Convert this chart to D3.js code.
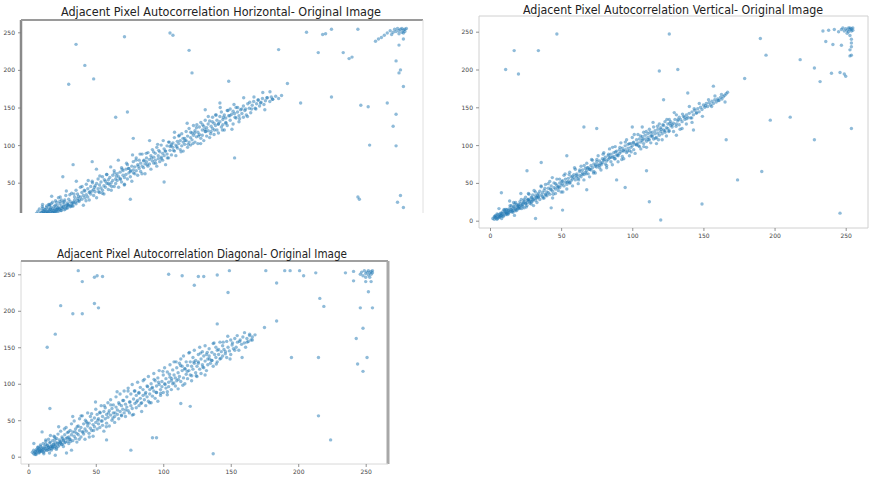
<!DOCTYPE html>
<html>
<head>
<meta charset="utf-8">
<script src="https://cdn.jsdelivr.net/npm/d3@7"></script>
<style>
body { margin: 0; background: #fff; }
svg { display: block; }
.tick text { font-family: "DejaVu Sans", sans-serif; font-size: 6px; fill: #444; }
.tick line { stroke: #777; stroke-width: 0.8; }
.title { font-family: "DejaVu Sans", sans-serif; font-size: 12px; fill: #222; }
</style>
</head>
<body>
<svg></svg>
<script>
var width = 871;
var height = 478;

var titles = ["Adjacent Pixel Autocorrelation Horizontal- Original Image",
              "Adjacent Pixel Autocorrelation Vertical- Original Image",
              "Adjacent Pixel Autocorrelation Diagonal- Original Image"];

var tickValues = [0, 50, 100, 150, 200, 250];

// horizontal neighbours: main band + scattered points
var hBand = [[3,9],[4,12],[5,8],[5,15],[6,10],[6,6],[7,13],[7,18],[8,9],[8,11],[9,14],[9,7],[10,12],[10,19],[10,9],[11,15],[11,11],[12,8],[12,14],[12,21],[13,12],[13,17],[14,10],[14,15],[14,24],[15,13],[15,18],[16,11],[16,16],[16,26],[17,14],[17,20],[18,12],[18,17],[18,30],[19,15],[19,22],[20,13],[20,19],[20,27],[21,17],[21,24],[22,14],[22,21],[23,19],[23,33],[24,16],[24,23],[25,20],[25,28],[26,18],[26,25],[27,22],[27,36],[28,24],[28,19],[29,27],[29,31],[30,22],[30,40],
  [31,29],[31,35],[32,25],[33,31],[33,44],[34,28],[34,37],[35,33],[35,20],[36,39],[36,30],[37,34],[37,48],[38,31],[38,42],[39,37],[39,27],[40,45],[40,35],[41,39],[41,52],[42,33],[42,41],[43,46],[43,38],[44,30],[44,49],[45,42],[45,55],[46,37],[46,47],[47,43],[47,51],[48,40],[48,58],[49,46],[49,35],[50,52],[50,44],[51,49],[51,61],[52,41],[52,54],[53,47],[53,57],[54,50],[54,40],[55,60],[55,53],[56,45],[56,66],[57,55],[57,49],[58,62],[58,53],[59,44],[59,58],[60,64],[60,55],[61,70],[61,51],[62,60],[62,66],[63,57],[63,48],[64,68],[64,61],[65,55],[65,74],[66,63],[66,69],[67,58],[67,65],[68,72],[68,52],[69,67],[69,78],[70,62],[70,71],[71,66],[71,83],[72,74],[72,60],[73,69],[73,80],[74,76],[74,65],[75,72],[75,88],[76,79],[76,70],[77,75],[77,62],[78,83],[78,78],[79,72],[79,90],[80,81],[80,75],[81,86],[81,68],[82,79],[82,94],[83,84],[83,76],[84,89],[84,80],[85,72],[85,97],[86,86],[86,82],[87,91],[87,78],[88,84],[88,100],[89,89],[89,80],[90,95],[90,86],[91,74],[91,92],[92,99],[92,88],[93,83],[93,104],[94,93],[94,98],[95,87],[95,101],[96,103],[96,97],[97,92],[97,110],[98,100],[98,86],[99,105],[99,96],
  [100,102],[100,112],[101,94],[101,106],[102,99],[102,115],[103,104],[103,92],[104,109],[104,101],[105,118],[105,106],[106,97],[106,112],[107,104],[107,122],[108,110],[108,100],[109,116],[109,107],[110,113],[110,126],[111,104],[111,119],[112,111],[112,123],[113,117],[113,102],[114,124],[114,114],[115,109],[115,130],[116,120],[116,113],[117,125],[117,106],[118,118],[118,133],[119,123],[119,112],[120,128],[120,119],[121,110],[121,132],[122,125],[122,118],[123,137],[123,122],[124,114],[124,129],[125,126],[125,140],[126,120],[126,133],[127,128],[127,116],[128,138],[128,131],[129,124],[129,144],[130,134],[130,127],[131,140],[131,120],[132,136],[132,130],[133,146],[133,126],[134,139],[135,133],[135,148],[136,141],[137,128],[137,145],[138,142],[139,136],[139,150],[140,144],[141,139],[141,131],[142,147],[143,142],[144,152],[144,137],[145,146],[146,140],[147,155],[148,149],[149,143],[150,153],[151,158],[152,149],[153,155],[154,160],[155,152],[156,157],[157,162],[158,154],[159,159],[160,163],[162,158],[163,164],[164,161],[166,165],[168,162],[170,166]];
var hBand2 = [[5.5,8],[7.2,21],[8.8,14],[9.6,6],[11.3,21],[12.7,15],[13.4,32],[15.1,9],[16.8,24],[17.5,16],[19.2,31],[20.6,7],[21.9,25],[23.4,39],[24.1,20],[25.8,34],[27.3,19],[28.6,35],[30.2,52],[31.7,32],[32.4,27],[34.1,45],[35.6,40],[36.8,26],[38.3,53],[39.5,38],[41.2,50],[42.6,44],[43.9,68],[45.4,38],[46.2,59],[47.9,36],[49.3,54],[50.8,61],[52.1,49],[53.6,71],[54.3,45],[56.1,63],[57.4,59],[58.8,80],[60.3,55],[61.5,68],[62.9,47],[64.4,76],[65.7,69],[67.2,66],[68.5,87],[69.1,63],[70.8,80],[72.4,72],[73.6,88],[74.9,62],[76.3,80],[77.8,89],[78.4,74],[80.1,106],[81.5,83],[82.8,91],[84.2,76],[85.6,101],
  [86.3,93],[88.1,82],[89.4,106],[90.7,92],[92.2,83],[93.5,104],[94.8,99],[96.4,93],[97.1,117],[98.6,98],[100.3,113],[101.5,91],[102.9,109],[104.2,106],[105.7,129],[106.4,101],[108.1,117],[109.6,102],[110.8,116],[112.3,127],[113.5,112],[114.9,102],[116.2,127],[117.7,121],[118.4,118],[120.1,138],[121.6,115],[122.8,131],[124.3,120],[125.5,140],[126.9,128],[128.2,150],[129.7,120],[130.4,137],[132.1,129],[133.5,146],[134.8,139],[136.2,121],[137.6,154],[138.3,137],[140.1,150],[141.4,135],[142.9,148],[144.2,163],[145.5,148],[146.8,138],[148.3,157],[149.6,148],[151.2,164],[152.5,148],[154.1,160],[155.7,156],[157.2,170],[158.6,147],[160.3,163],[162.1,171],[163.8,161],
  [6.5,10],[7.8,12],[8.3,8],[9.1,10],[10.4,11],[11.7,9],[12.2,12],[13.6,10],[14.3,13],[15.5,11],[16.2,14],[17.1,12],[18.4,15],[19.6,13],[20.3,16],[21.5,18],[22.7,15],[23.8,17],[24.6,21],[26.4,19],[27.9,23],[29.5,24],[31.1,26],[7.4,16],[9.8,17],[11.9,19],[13.1,22],[15.8,20],[18.9,25],[22.3,27]];
var hOut = [[30,234],[63,244],[94,249],[96,246],[36,206],[42,188],[25,181],[107,226],[109,196],[134,185],[168,227],[174,182],[187,250],[198,247],[200,248],[204,254],[222,254],[195,223],[212,223],[216,215],[218,217],[183,156],[204,164],[224,153],[229,151],[242,156],[230,100],[248,99],[246,125],[248,141],[253,178],[251,200],[250,196],[248,212],[250,233],[253,241],[234,238],[236,241],[238,243],[138,83],[222,31],[223,28],[251,33],[249,24],[253,17],[57,137],[65,144],[69,109],[67,28],[28,74],[21,58],[41,78],[90,51],[128,156],[118,147],
  [242,249],[244,252],[246,250],[247,254],[248,251],[249,255],[250,252],[251,254],[252,250],[252,255],[253,253],[254,254],[254,251],[255,255],[253,249],[250,248],[245,247],[240,246]];

// vertical neighbours
var vBand = [[2,3],[3,5],[3,2],[4,7],[4,4],[5,3],[5,9],[6,6],[6,4],[7,8],[7,5],[8,10],[8,7],[9,6],[9,12],[10,9],[10,14],[11,8],[11,11],[12,15],[12,10],[13,13],[13,9],[14,17],[14,12],[15,14],[15,20],[16,11],[16,16],[17,19],[17,13],[18,15],[18,24],[19,18],[19,14],[20,21],[20,17],[21,25],[21,16],[22,20],[22,28],[23,19],[23,23],[24,26],[24,17],[25,22],[25,31],[26,24],[26,20],[27,28],[27,36],[28,23],[28,27],[29,31],[29,22],[30,26],[30,34],[31,29],[31,40],[32,27],[32,33],[33,30],[33,24],[34,36],[34,31],[35,39],[35,28],[36,34],[36,45],[37,32],[37,37],[38,40],[38,30],[39,35],[39,48],[40,38],[40,33],[41,43],[41,37],[42,35],[42,52],[43,41],[43,46],[44,39],[44,30],[45,44],[45,50],[46,42],[46,36],[47,47],[47,55],[48,45],[48,40],[49,50],[49,44],[50,47],[50,38],[51,53],[51,49],[52,46],[52,60],[53,51],[53,55],[54,48],[54,42],[55,56],[55,52],[56,50],[56,64],[57,58],[57,53],[58,55],[58,46],[59,61],[59,57],[60,54],[60,68],[61,62],[61,58],[62,56],[62,49],[63,65],[63,60],[64,58],[64,72],[65,63],[65,67],[66,61],[66,54],[67,69],[67,64],[68,66],[68,76],[69,62],[69,70],[70,68],[70,58],[71,73],[71,67],[72,70],[72,80],[73,65],[73,75],[74,72],[74,63],[75,78],[75,71],[76,74],[76,86],[77,70],[77,79],[78,76],[78,67],[79,82],[79,77],[80,80],[80,90],[81,75],[81,84],[82,79],[82,70],[83,86],[83,81],[84,83],[84,95],[85,78],[85,88],[86,84],[86,74],[87,90],[87,85],[88,82],[88,98],[89,87],[89,92],[90,86],[90,78],[91,94],[91,89],[92,91],[92,103],[93,85],[93,96],[94,92],[94,82],[95,99],[95,94],[96,90],[96,107],[97,96],[97,101],[98,93],[98,86],[99,102],[99,97],[100,99],[100,110],[101,94],[101,104],[102,101],[102,89],[103,107],[103,100],[104,103],[104,114],[105,98],[105,108],[106,104],[106,95],[107,111],[107,106],[108,102],[108,117],[109,108],[109,113],[110,105],[110,97],[111,115],[111,110],[112,107],[112,121],[113,112],[113,103],[114,117],[114,111],[115,108],[115,124],[116,115],[116,119],[117,110],[117,102],[118,121],[118,116],[119,113],[119,128],[120,118],[120,123],[121,115],[121,107],[122,126],[122,120],[123,117],[123,131],[124,123],[124,112],[125,128],[125,122],[126,119],[126,134],[127,126],[127,131],[128,124],[129,129],[129,118],[130,134],[131,128],[131,140],[132,132],[133,127],[133,137],[134,134],[135,131],[135,122],[136,138],[137,134],[138,140],[138,128],[139,137],[140,142],[141,136],[142,144],[142,130],[143,140],[144,146],[145,142],[146,148],[147,144],[148,150],[149,147],[150,153],[151,150],[152,155],[153,151],[154,156],[155,153],[156,158],[157,155],[158,160],[159,157],[160,161],[161,159],[162,163],[163,161],[164,164],[165,166],[166,168],[167,170]];
var vBand2 = [[3.4,6],[4.9,2],[6.3,16],[7.6,7],[8.2,3],[9.9,15],[11.4,12],[12.1,8],[13.8,26],[15.3,12],[16.6,24],[17.2,7],[18.9,21],[20.4,19],[21.7,36],[22.3,16],[24,28],[25.5,18],[26.8,28],[27.4,35],[29.1,25],[30.6,20],[31.9,38],[33.5,34],[34.2,32],[35.9,46],[37.3,30],[38.6,43],[39.2,34],[40.9,49],[42.5,42],[43.8,57],[44.4,35],[46.1,49],[47.6,44],[48.9,55],[50.5,52],[51.2,38],[52.8,62],[54.3,51],[55.6,61],[56.2,50],[57.9,59],[59.4,70],[60.7,60],[62.3,54],[63.1,67],[64.8,61],[66.2,73],[67.5,62],[68.3,70],[70,68],[71.4,81],[72.7,63],[74.3,74],[75.1,81],[76.8,73],
  [78.2,74],[79.5,88],[80.3,81],[82,73],[83.4,88],[84.7,84],[86.1,97],[87.5,82],[88.2,91],[89.9,87],[91.3,97],[92.6,81],[93.4,93],[95.1,104],[96.6,92],[97.9,102],[99.2,91],[100.6,103],[101.4,114],[103.1,101],[104.5,99],[105.8,112],[107.3,108],[108.1,98],[109.8,118],[111.2,107],[112.5,117],[113.9,113],[114.6,130],[116.3,109],[117.7,125],[118.4,107],[120.2,121],[121.5,127],[122.9,119],[124.3,134],[125.6,118],[126.4,129],[128.1,127],[129.5,143],[130.8,125],[132.2,134],[133.6,121],[135.3,141],[136.7,137],[138.4,135],[140.1,151],[141.8,136],[143.5,148],[145.2,143],[147.1,155],[149.3,138],[151.4,152],[153.6,160],[155.8,151],[158.1,165],[160.4,159],[162.7,167],[165.2,157],
  [4.2,5],[5.6,8],[6.8,5],[7.3,10],[8.7,9],[9.4,6],[10.6,12],[11.8,10],[12.9,14],[13.3,11],[14.7,15],[15.9,13],[16.4,18],[17.8,16],[18.3,13],[19.5,20],[20.9,18],[21.2,22],[22.8,21],[23.6,24],[25.1,23],[26.3,27],[27.9,25],[29.4,30],[30.2,28],[32.7,31],[14.1,20],[17.4,22],[19.9,16],[11.1,15]];
var vOut = [[47,247],[126,247],[17,225],[34,225],[11,200],[20,194],[119,198],[132,200],[122,160],[139,169],[157,178],[179,188],[190,241],[194,219],[197,133],[211,137],[218,213],[228,202],[232,184],[240,195],[246,196],[250,191],[249,194],[254,122],[228,107],[166,107],[191,65],[174,54],[149,22],[112,25],[120,1],[246,10],[32,3],[234,251],[238,252],[242,253],[236,237],[241,233],[247,232],[254,230],[254,219],[253,218],[89,54],[95,44],[68,41],[51,14],[43,17],[110,66],[54,86],[36,77],[26,66],[8,37],[66,124],[75,122],[100,124],[107,124],[131,113],[143,120],
  [245,250],[247,253],[248,255],[249,251],[250,254],[251,252],[252,255],[252,250],[253,253],[253,255],[254,254],[254,251],[255,255],[255,252],[251,248],[253,245],[254,240],[254,235],[253,226]];

// diagonal neighbours
var dBand = [[3,6],[4,4],[4,9],[5,7],[5,3],[6,10],[6,5],[7,8],[7,13],[8,6],[8,11],[9,9],[9,16],[10,7],[10,12],[11,10],[11,18],[12,8],[12,14],[13,11],[13,21],[14,9],[14,16],[15,13],[15,24],[16,11],[16,19],[17,15],[17,9],[18,22],[18,13],[19,17],[19,28],[20,14],[20,20],[21,25],[21,12],[22,18],[22,31],[23,16],[23,23],[24,21],[24,35],[25,17],[25,27],[26,22],[26,14],[27,30],[27,19],[28,25],[28,40],[29,21],[29,33],[30,27],[30,18],[31,36],[31,24],[32,30],[32,45],[33,22],[33,34],[34,28],[34,49],[35,38],[35,25],[36,32],[36,20],[37,42],[37,30],[38,36],[38,52],[39,27],[39,40],[40,34],[40,56],[41,45],[41,31],[42,38],[42,24],[43,48],[43,35],[44,42],[44,60],[45,32],[45,46],[46,39],[46,55],[47,50],[47,36],[48,44],[48,28],[49,53],[49,41],[50,47],[50,65],[51,38],[51,58],[52,45],[52,52],[53,61],[53,40],[54,49],[54,70],[55,55],[55,43],[56,62],[56,35],[57,52],[57,67],[58,46],[58,58],[59,74],[59,54],[60,63],[60,42],[61,57],[61,78],[62,50],[62,66],[63,60],[63,71],[64,55],[64,47],[65,68],[65,82],[66,58],[66,64],[67,74],[67,52],[68,62],[68,86],[69,70],[69,57],[70,65],[70,77],[71,60],[71,90],[72,72],[72,55],[73,68],[73,82],[74,63],[74,94],[75,75],[75,60],[76,70],[76,86],[77,66],[77,99],[78,79],[78,58],[79,73],[79,90],[80,84],[80,67],[81,77],[81,102],[82,88],[82,70],[83,80],[83,95],[84,74],[84,62],[85,92],[85,84],[86,78],[86,106],[87,88],[87,70],[88,97],[88,82],[89,76],[89,110],[90,92],[90,86],[91,100],[91,74],[92,95],[92,83],[93,114],[93,90],[94,80],[94,104],[95,97],[95,88],[96,108],[96,76],[97,99],[97,118],[98,92],[98,84],[99,103],[99,96],[100,112],[100,88],[101,100],[101,122],[102,94],[102,107],[103,85],[103,116],[104,102],[104,96],[105,126],[105,109],[106,92],[106,104],[107,119],[107,100],[108,112],[108,130],[109,97],[109,108],[110,122],[110,104],[111,115],[111,93],[112,128],[112,110],[113,134],[113,103],[114,118],[114,124],[115,108],[115,138],[116,121],[116,100],[117,113],[117,130],[118,125],[118,107],[119,142],[119,118],[120,130],[120,112],[121,124],[121,104],[122,136],[122,120],[123,128],[123,146],[124,115],[124,132],[125,124],[125,110],[126,140],[126,130],[127,120],[127,150],[128,134],[128,114],[129,126],[129,144],[130,138],[130,122],[131,131],[131,152],[132,118],[132,140],[133,134],[133,126],[134,148],[134,138],[135,128],[136,143],[136,132],[137,155],[137,124],[138,140],[139,136],[139,150],[140,130],[140,146],[141,140],[142,157],[142,134],[143,144],[144,138],[144,152],[145,147],[146,141],[147,158],[147,136],[148,150],[149,145],[150,160],[150,140],[151,153],[152,148],[153,162],[154,150],[155,157],[156,146],[157,160],[158,154],[159,164],[160,156],[161,150],[162,162],[163,158],[164,166],[165,160],[166,164],[168,167]];
var dBand2 = [[4.1,18],[5.8,3],[7.4,13],[8.6,7],[10.2,34],[11.5,4],[12.9,23],[14.3,15],[15.7,5],[16.4,29],[18.1,14],[19.6,27],[20.8,10],[22.5,41],[23.9,19],[25.2,25],[26.7,38],[28.3,5],[29.8,34],[31.4,21],[32.9,55],[34.6,34],[36.2,41],[37.7,24],[39.1,56],[40.6,34],[42.3,50],[43.7,46],[45.2,27],[46.9,59],[48.4,36],[49.8,75],[51.5,50],[53.2,60],[54.7,49],[56.3,70],[57.8,41],[59.4,60],[61.1,71],[62.7,53],[64.3,60],[65.8,89],[67.5,72],[69.1,56],[70.6,77],[72.2,64],[73.9,90],[75.4,75],[77.1,57],[78.6,90],[80.2,75],[81.9,87],[83.5,73],[85.1,104],[86.7,86],[88.4,96],[89.9,74],[91.6,94],[93.2,106],[94.8,88],
  [96.5,102],[98.1,87],[99.7,117],[101.4,99],[103,89],[104.6,113],[106.3,107],[107.9,101],[109.5,130],[111.2,106],[112.8,125],[114.5,98],[116.1,120],[117.8,117],[119.4,143],[121.1,111],[122.7,130],[124.4,111],[126,128],[127.7,142],[129.3,123],[131,112],[132.6,143],[134.3,134],[136,132],[137.6,156],[139.3,127],[141,147],[142.7,135],[144.4,157],[146.1,144],[147.8,165],[149.5,134],[151.3,156],[153,146],[154.8,166],[156.6,158],[158.4,136],[160.2,170],[162.1,157],[164,168],[166,160],
  [5.2,6],[6.6,9],[7.9,5],[8.4,10],[9.7,8],[10.8,11],[11.2,6],[12.4,12],[13.7,9],[14.9,13],[15.3,10],[16.8,14],[17.4,11],[18.6,17],[19.1,12],[20.3,16],[21.7,19],[22.1,14],[23.5,20],[24.8,17],[26.2,23],[27.4,20],[28.9,26],[30.5,24],[9.3,14],[12.8,17],[16.1,20],[19.8,24]];
var dOut = [[37,255],[40,240],[49,246],[51,248],[55,247],[49,210],[52,204],[24,207],[33,196],[40,196],[20,168],[14,150],[16,66],[104,250],[114,248],[123,235],[126,247],[130,247],[140,249],[149,255],[148,225],[140,182],[176,255],[184,238],[175,177],[184,186],[190,255],[194,255],[201,255],[204,248],[213,252],[216,217],[219,206],[195,136],[215,136],[215,56],[224,23],[137,4],[76,9],[20,2],[235,252],[241,254],[241,241],[250,240],[254,240],[252,226],[246,204],[255,204],[248,176],[243,162],[251,136],[244,127],[248,117],[92,26],[95,26],[113,73],[120,69],[58,23],[32,9],
  [246,250],[247,253],[248,248],[249,255],[250,251],[251,253],[252,249],[252,255],[253,252],[254,254],[254,250],[255,255],[255,252],[253,246],[250,246]];

var svg = d3.select("svg")
            .attr("width", width)
            .attr("height", height);

var panels = [
  { title: titles[0], pts: hBand.concat(hBand2, hOut),
    frame: { x0: 21, x1: 423, y0: 20, y1: 213 },
    xr: [32, 399], yr: [220.3, 32.3],
    yTicks: [50, 100, 150, 200, 250], xTicks: null,
    tx: 221, ty: 16, tw: 320,
    edges: { left: ["#8a8a8a", 2.5], top: ["#9a9a9a", 2], right: ["#e0e0e0", 1], bottom: null } },
  { title: titles[1], pts: vBand.concat(vBand2, vOut),
    frame: { x0: 479, x1: 868, y0: 16, y1: 228 },
    xr: [490, 845.7], yr: [220.7, 31.7],
    yTicks: tickValues, xTicks: tickValues,
    tx: 673, ty: 14, tw: 300,
    edges: { left: ["#d0d0d0", 1], top: ["#d0d0d0", 1], right: ["#d0d0d0", 1], bottom: ["#d0d0d0", 1] } },
  { title: titles[2], pts: dBand.concat(dBand2, dOut),
    frame: { x0: 21, x1: 388, y0: 261, y1: 464 },
    xr: [28.3, 365.7], yr: [456.7, 274.3],
    yTicks: tickValues, xTicks: tickValues,
    tx: 202, ty: 258, tw: 290,
    edges: { left: ["#d8d8d8", 1], top: ["#a0a0a0", 2], right: ["#a8a8a8", 3], bottom: ["#d8d8d8", 1] } }
];

panels.forEach(function(p, i) {

  var scaleX = d3.scaleLinear().domain([0, 250]).range(p.xr);
  var scaleY = d3.scaleLinear().domain([0, 250]).range(p.yr);
  var f = p.frame;

  var g = svg.append("g");

  g.append("clipPath")
   .attr("id", "clip" + i)
   .append("rect")
   .attr("x", f.x0).attr("y", f.y0)
   .attr("width", f.x1 - f.x0).attr("height", f.y1 - f.y0);

  g.append("g")
   .attr("clip-path", "url(#clip" + i + ")")
   .selectAll("circle")
   .data(p.pts)
   .enter()
   .append("circle")
   .attr("cx", function(d) { return scaleX(d[0]) })
   .attr("cy", function(d) { return scaleY(d[1]) })
   .attr("r", 1.7)
   .attr("fill", "#1f77b4")
   .attr("opacity", 0.5);

  // frame edges
  var e = p.edges;
  if (e.left) g.append("line").attr("x1", f.x0).attr("x2", f.x0).attr("y1", f.y0).attr("y2", f.y1).attr("stroke", e.left[0]).attr("stroke-width", e.left[1]);
  if (e.top) g.append("line").attr("x1", f.x0).attr("x2", f.x1).attr("y1", f.y0).attr("y2", f.y0).attr("stroke", e.top[0]).attr("stroke-width", e.top[1]);
  if (e.right) g.append("line").attr("x1", f.x1).attr("x2", f.x1).attr("y1", f.y0).attr("y2", f.y1).attr("stroke", e.right[0]).attr("stroke-width", e.right[1]);
  if (e.bottom) g.append("line").attr("x1", f.x0).attr("x2", f.x1).attr("y1", f.y1).attr("y2", f.y1).attr("stroke", e.bottom[0]).attr("stroke-width", e.bottom[1]);

  var yAxis = d3.axisLeft(scaleY)
                .tickValues(p.yTicks)
                .tickSizeInner(3)
                .tickSizeOuter(0)
                .tickPadding(3);
  var ya = g.append("g")
            .attr("transform", "translate(" + f.x0 + ",0)")
            .call(yAxis);
  ya.select(".domain").remove();
  ya.selectAll("text").attr("fill", "#444");

  if (p.xTicks) {
    var xAxis = d3.axisBottom(scaleX)
                  .tickValues(p.xTicks)
                  .tickSizeInner(3)
                  .tickSizeOuter(0)
                  .tickPadding(3);
    var xa = g.append("g")
              .attr("transform", "translate(0," + f.y1 + ")")
              .call(xAxis);
    xa.select(".domain").remove();
    xa.selectAll("text").attr("fill", "#444");
  }

  g.append("text")
   .attr("class", "title")
   .attr("x", p.tx)
   .attr("y", p.ty)
   .attr("text-anchor", "middle")
   .attr("textLength", p.tw)
   .attr("lengthAdjust", "spacingAndGlyphs")
   .text(p.title);
});
</script>
</body>
</html>
